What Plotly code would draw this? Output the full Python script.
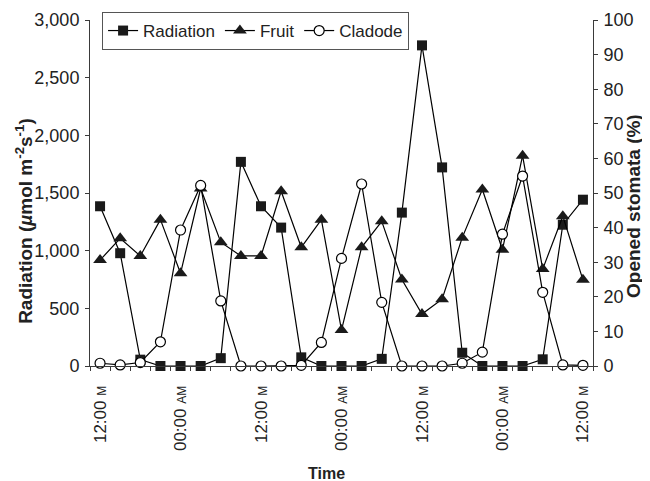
import plotly.graph_objects as go

# Time in hours from the first observation (every 3 h)
hours = [0, 3, 6, 9, 12, 15, 18, 21, 24, 27, 30, 33, 36, 39, 42, 45, 48, 51, 54, 57, 60, 63, 66, 69, 72]

radiation = [1385, 978, 55, 0, 0, 0, 68, 1770, 1385, 1200, 75, 0, 0, 0, 62, 1330, 2780, 1722, 115, 0, 0, 0, 58, 1225, 1442]
fruit = [30.6, 36.9, 31.8, 42.3, 26.8, 51.3, 35.8, 31.8, 31.8, 50.5, 34.3, 42.3, 10.4, 34.3, 41.8, 25.0, 15.0, 19.3, 37.1, 51.0, 33.6, 60.8, 28.0, 43.3, 24.9]
cladode = [0.8, 0.3, 1.0, 7.0, 39.3, 52.2, 18.8, 0.0, 0.0, 0.0, 0.2, 6.8, 31.1, 52.6, 18.4, 0.0, 0.0, 0.0, 0.8, 4.0, 38.1, 54.9, 21.3, 0.3, 0.2]

tick_hours = [0, 12, 24, 36, 48, 60, 72]
SM = "<span style='font-size:12px'>M</span>"
SAM = "<span style='font-size:12px'>AM</span>"
tick_text = ["12:00 " + SM, "00:00 " + SAM, "12:00 " + SM, "00:00 " + SAM, "12:00 " + SM, "00:00 " + SAM, "12:00 " + SM]
boundary_ticks = [-1.5, 1.5, 4.5, 7.5, 10.5, 13.5, 16.5, 19.5, 22.5, 25.5, 28.5, 31.5, 34.5, 37.5, 40.5, 43.5,
                  46.5, 49.5, 52.5, 55.5, 58.5, 61.5, 64.5, 67.5, 70.5, 73.5]

FONT = "Liberation Sans, Arial, sans-serif"
TXT = "#222"
AX = "#3a3a3a"
line = dict(color="black", width=1.2)

fig = go.Figure()
fig.add_trace(go.Scatter(x=hours, y=radiation, name="Radiation", mode="lines+markers", line=line,
                         marker=dict(symbol="square", size=10, color="#1a1a1a", line=dict(width=0)),
                         cliponaxis=False))
fig.add_trace(go.Scatter(x=hours, y=fruit, name="Fruit", mode="lines+markers", line=line, yaxis="y2",
                         marker=dict(symbol="triangle-up", size=12, color="#1a1a1a", line=dict(width=0)),
                         cliponaxis=False))
fig.add_trace(go.Scatter(x=hours, y=cladode, name="Cladode", mode="lines+markers", line=line, yaxis="y2",
                         marker=dict(symbol="circle", size=10, color="white", line=dict(color="black", width=1.2)),
                         cliponaxis=False))

# page body adds an 8px offset; figure sized to fill the rest of the 650x481 window
fig.update_layout(
    width=642, height=473,
    margin=dict(l=82, r=57, t=4, b=115, autoexpand=False),
    paper_bgcolor="white", plot_bgcolor="white",
    font=dict(family=FONT, size=17, color=TXT),
    showlegend=True,
    legend=dict(orientation="h", x=0.024, y=1.0, xanchor="left", yanchor="top",
                bordercolor="#555", borderwidth=1, bgcolor="white",
                font=dict(family=FONT, size=17, color=TXT), itemwidth=30,
                tracegroupgap=0, itemsizing="trace"),
    xaxis=dict(range=[-1.5, 73.5], tickmode="array", tickvals=tick_hours, ticktext=tick_text,
               tickangle=-90, ticks="", showgrid=False, zeroline=False, automargin=False,
               showline=True, linecolor=AX, linewidth=1, ticklabelstandoff=12,
               tickfont=dict(family=FONT, size=17, color=TXT),
               minor=dict(tickmode="array", tickvals=boundary_ticks, ticks="outside", ticklen=4,
                          tickcolor=AX, showgrid=False)),
    yaxis=dict(domain=[0, 0.9774], range=[0, 3000], tickmode="array",
               tickvals=[0, 500, 1000, 1500, 2000, 2500, 3000], automargin=False,
               tickformat=",d", ticks="outside", ticklen=4, tickcolor=AX,
               showgrid=False, zeroline=False, showline=True, linecolor=AX, linewidth=1,
               ticklabelstandoff=2,
               tickfont=dict(family=FONT, size=18, color=TXT)),
    yaxis2=dict(domain=[0, 0.9774], range=[0, 100], overlaying="y", side="right", tickmode="array",
                tickvals=[0, 10, 20, 30, 40, 50, 60, 70, 80, 90, 100], automargin=False,
                ticks="outside", ticklen=4, tickcolor=AX,
                showgrid=False, zeroline=False, showline=True, linecolor=AX, linewidth=1,
                ticklabelstandoff=2,
                tickfont=dict(family=FONT, size=18, color=TXT)),
    annotations=[
        dict(text="<b>Radiation (<i>µ</i>mol m<sup>-2</sup>s<sup>-1</sup>)</b>", xref="paper", yref="paper",
             x=0, xshift=-66, y=0.41, textangle=-90, showarrow=False, xanchor="center", yanchor="middle",
             font=dict(family=FONT, size=19, color=TXT)),
        dict(text="<b>Opened stomata (%)</b>", xref="paper", yref="paper",
             x=1, xshift=41, y=0.452, textangle=-90, showarrow=False, xanchor="center", yanchor="middle",
             font=dict(family=FONT, size=19, color=TXT)),
        dict(text="<b>Time</b>", xref="paper", yref="paper",
             x=0.4698, y=0, yshift=-107, showarrow=False, xanchor="center", yanchor="middle",
             font=dict(family=FONT, size=16, color=TXT)),
    ],
)

fig.write_html("out.html")
